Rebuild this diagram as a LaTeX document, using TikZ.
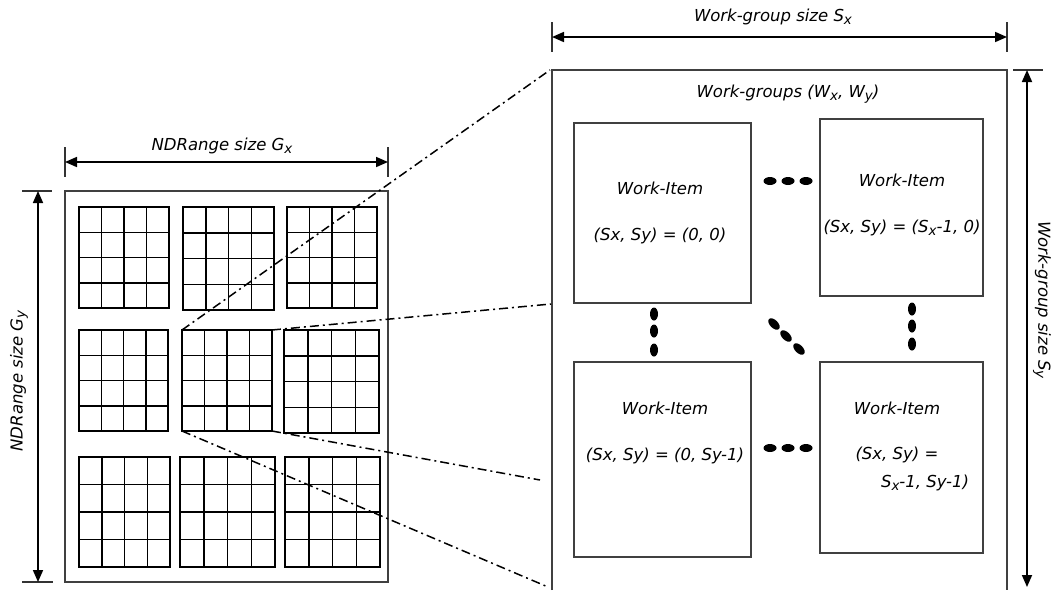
\documentclass[tikz,border=0pt]{standalone}
\usepackage{fontspec}
\setmainfont{DejaVu Sans}
\usetikzlibrary{arrows.meta,calc}
\newcommand{\lsub}[1]{\raisebox{-0.3ex}{\fontsize{13.5}{13.5}\selectfont #1}}
\tikzset{
  gbox/.style={draw=black, line width=1.5pt, inner sep=0pt, outer sep=0pt},
  gline/.style={draw=black, line width=1.5pt},
  outerbox/.style={draw=black!75, line width=1.7pt},
  itembox/.style={draw=black!75, line width=1.4pt, inner sep=0pt, outer sep=0pt},
  lbl/.style={font=\fontsize{16.5}{19}\selectfont\itshape, inner sep=0pt},
  dimline/.style={draw=black, line width=1.7pt, {Triangle[length=12pt,width=10pt]}-{Triangle[length=12pt,width=10pt]}},
  tick/.style={draw=black!80, line width=1.4pt},
  zoomline/.style={draw=black, line width=1.5pt, dash pattern=on 9pt off 4pt on 2pt off 4pt},
  dotfill/.style={fill=black}
}
\newcommand{\gblock}[5]{%
  \node[gbox, minimum width={(#4-#2)*1pt}, minimum height={(#5-#3)*1pt}] (#1) at ({(#2+#4)/2},{(#3+#5)/2}) {};
  \foreach \i in {1,2,3} {
    \draw[gline] ($(#1.north west)!\i/4!(#1.north east)$) -- ($(#1.south west)!\i/4!(#1.south east)$);
    \draw[gline] ($(#1.north west)!\i/4!(#1.south west)$) -- ($(#1.north east)!\i/4!(#1.south east)$);
  }
}
\begin{document}
\begin{tikzpicture}[x=1pt,y=-1pt]
\useasboundingbox (0,0) rectangle (1053,590);
\fill[white] (0,0) rectangle (1053,590);

% NDRange outer box
\node[outerbox, inner sep=0pt, minimum width=323pt, minimum height=391pt] (ndr) at (226.5,386.5) {};

% blocks
\gblock{b11}{79}{207}{169}{308}
\gblock{b12}{183}{207}{274}{310}
\gblock{b13}{287}{207}{377}{308}
\gblock{b21}{79}{330}{168}{431}
\gblock{b22}{182}{330}{272}{431}
\gblock{b23}{284}{330}{379}{433}
\gblock{b31}{79}{457}{170}{567}
\gblock{b32}{180}{457}{275}{567}
\gblock{b33}{285}{457}{380}{567}

% Gx dimension
\coordinate (gxl) at (65,162);
\coordinate (gxr) at (388,162);
\draw[tick] (65,147) -- (65,177);
\draw[tick] (388,147) -- (388,177);
\draw[dimline] (gxl) -- (gxr);
\node[lbl] (gxlab) at (222,146) {NDRange size G\lsub{x}};

% Gy dimension
\coordinate (gyt) at (38,191);
\coordinate (gyb) at (38,582);
\draw[tick] (22,191) -- (52,191);
\draw[tick] (22,582) -- (53,582);
\draw[dimline] (gyt) -- (gyb);
\node[lbl, rotate=90] (gylab) at (19,381) {NDRange size G\lsub{y}};

% Work-group box (open at the bottom)
\coordinate (wgbl) at (552,590);
\coordinate (wgtl) at (552,70);
\coordinate (wgtr) at (1007,70);
\coordinate (wgbr) at (1007,590);
\draw[outerbox] (wgbl) -- (wgtl) -- (wgtr) -- (wgbr);
\node[lbl] (wglab) at (788,94) {Work-groups (W\lsub{x}, W\lsub{y})};

% Sx dimension
\coordinate (sxl) at (552,37);
\coordinate (sxr) at (1007,37);
\draw[tick] (552,22) -- (552,52);
\draw[tick] (1007,22) -- (1007,52);
\draw[dimline] (sxl) -- (sxr);
\node[lbl] (sxlab) at (773,17) {Work-group size S\lsub{x}};

% Sy dimension
\coordinate (syt) at (1027,70);
\coordinate (syb) at (1027,587);
\draw[tick] (1013,70) -- (1043,70);
\draw[dimline] (syt) -- (syb);
\node[lbl, rotate=-90] (sylab) at (1042,300) {Work-group size S\lsub{y}};

% Work items
\node[itembox, minimum width=177pt, minimum height=180pt] (wi00) at (662.5,213) {};
\node[itembox, minimum width=163pt, minimum height=177pt] (wi10) at (901.5,207.5) {};
\node[itembox, minimum width=177pt, minimum height=195pt] (wi01) at (662.5,459.5) {};
\node[itembox, minimum width=163pt, minimum height=191pt] (wi11) at (901.5,457.5) {};

\node[lbl] (t00a) at (660,188) {Work-Item};
\node[lbl] (t00b) at (660,236) {(Sx, Sy) = (0, 0)};
\node[lbl] (t10a) at (902,180) {Work-Item};
\node[lbl] (t10b) at (902,228) {(Sx, Sy) = (S\lsub{x}-1, 0)};
\node[lbl] (t01a) at (665,408) {Work-Item};
\node[lbl] (t01b) at (665,456) {(Sx, Sy) = (0, Sy-1)};
\node[lbl] (t11a) at (897,408) {Work-Item};
\node[lbl] (t11b) at (897,455) {(Sx, Sy) =};
\node[lbl] (t11c) at (925,483) {S\lsub{x}-1, Sy-1)};

% ellipsis dots
\foreach \x in {770,788,806} {
  \fill[dotfill] (\x,181) ellipse [x radius=6.5pt, y radius=4pt];
  \fill[dotfill] (\x,448) ellipse [x radius=6.5pt, y radius=4pt];
}
\foreach \y in {314,331,350} {
  \fill[dotfill] (654,\y) ellipse [x radius=4pt, y radius=6.5pt];
}
\foreach \y in {309,326,344} {
  \fill[dotfill] (912,\y) ellipse [x radius=4pt, y radius=6.5pt];
}
\foreach \x/\y in {774/324,786/336,799/349} {
  \fill[dotfill, rotate around={-45:(\x,\y)}] (\x,\y) ellipse [x radius=7pt, y radius=4pt];
}

% zoom lines
\coordinate (z1) at (550,70);
\coordinate (z2) at (551,304);
\coordinate (z3) at (540,480);
\coordinate (z4) at (548,587);
\draw[zoomline] (b22.north west) -- (z1);
\draw[zoomline] (b22.north east) -- (z2);
\draw[zoomline] (b22.south east) -- (z3);
\draw[zoomline] (b22.south west) -- (z4);
\end{tikzpicture}
\end{document}
